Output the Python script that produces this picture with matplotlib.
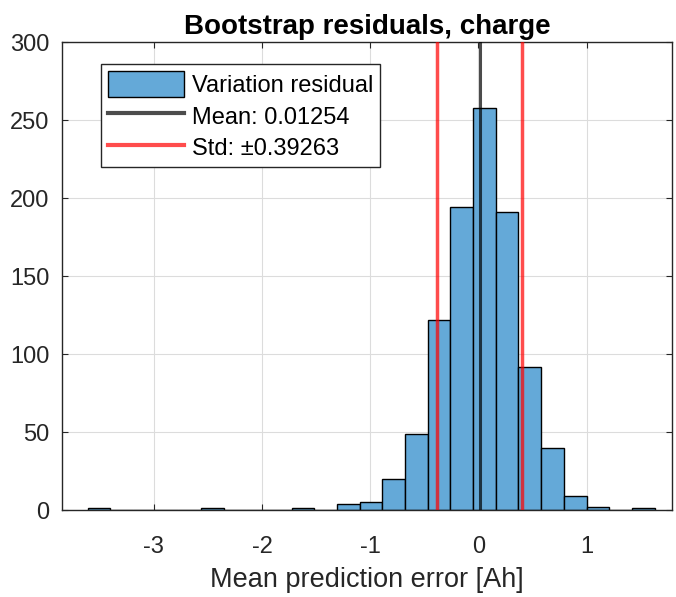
import matplotlib.pyplot as plt
import matplotlib.patches as mpatches
from matplotlib.lines import Line2D
import numpy as np

plt.rcParams['font.family'] = ['Liberation Sans', 'DejaVu Sans']

# Histogram bins (edges) and counts
bin_edges = [-3.613, -3.403, -3.194, -2.984, -2.774, -2.565, -2.355, -2.145,
             -1.935, -1.726, -1.516, -1.306, -1.097, -0.887, -0.677, -0.468,
             -0.258, -0.048, 0.161, 0.371, 0.581, 0.790, 1.000, 1.210,
             1.420, 1.629]
counts = [1, 0, 0, 0, 0, 1, 0, 0, 0, 1, 0, 4, 5, 20, 49, 122,
          194, 258, 191, 92, 40, 9, 2, 0, 1]

mean_val = 0.01254
std_val = 0.39263

x_ticks = [-3, -2, -1, 0, 1]
y_ticks = [0, 50, 100, 150, 200, 250, 300]

dark = '#262626'

fig = plt.figure(figsize=(6.76, 5.97), dpi=100)
ax = fig.add_axes([0.0917, 0.1457, 0.9023, 0.7839])

edges = np.array(bin_edges)
ax.bar(edges[:-1], counts, width=np.diff(edges), align='edge',
       color='#64A9D8', edgecolor='black', linewidth=1.0, zorder=2)

ax.axvline(mean_val, color='black', alpha=0.7, linewidth=2.2, zorder=3)
ax.axvline(mean_val - std_val, color='red', alpha=0.7, linewidth=2.5, zorder=3)
ax.axvline(mean_val + std_val, color='red', alpha=0.7, linewidth=2.5, zorder=3)

ax.set_xlim(-3.85, 1.79)
ax.set_ylim(0, 300)
ax.set_xticks(x_ticks)
ax.set_yticks(y_ticks)
ax.set_xticklabels([str(t) for t in x_ticks])
ax.grid(True, color='#dcdcdc', linewidth=0.8, zorder=0)
ax.set_axisbelow(True)

for s in ax.spines.values():
    s.set_color(dark)
    s.set_linewidth(1.0)
ax.tick_params(direction='in', length=4, width=0.8, colors=dark,
               labelsize=17, top=True, right=True, labeltop=False, labelright=False)
ax.tick_params(axis='x', pad=19)
ax.tick_params(axis='y', pad=9)

ax.set_xlabel('Mean prediction error [Ah]', fontsize=19.5, color=dark, labelpad=6)
ax.set_title('Bootstrap residuals, charge', fontsize=20, fontweight='bold', pad=6)

handles = [mpatches.Patch(facecolor='#64A9D8', edgecolor='black', linewidth=1.0),
           Line2D([], [], color='black', alpha=0.7, linewidth=3),
           Line2D([], [], color='red', alpha=0.7, linewidth=3)]
labels = ['Variation residual', 'Mean: 0.01254', 'Std: \u00b10.39263']
leg = ax.legend(handles, labels, loc='upper left', bbox_to_anchor=(0.064, 0.953),
                borderaxespad=0, fontsize=17, handlelength=3.2, handleheight=1.3,
                handletextpad=0.35, labelspacing=0.25, borderpad=0.3,
                fancybox=False, framealpha=1, edgecolor=dark)
leg.get_frame().set_linewidth(1.0)

fig.savefig('out.png', dpi=100)
